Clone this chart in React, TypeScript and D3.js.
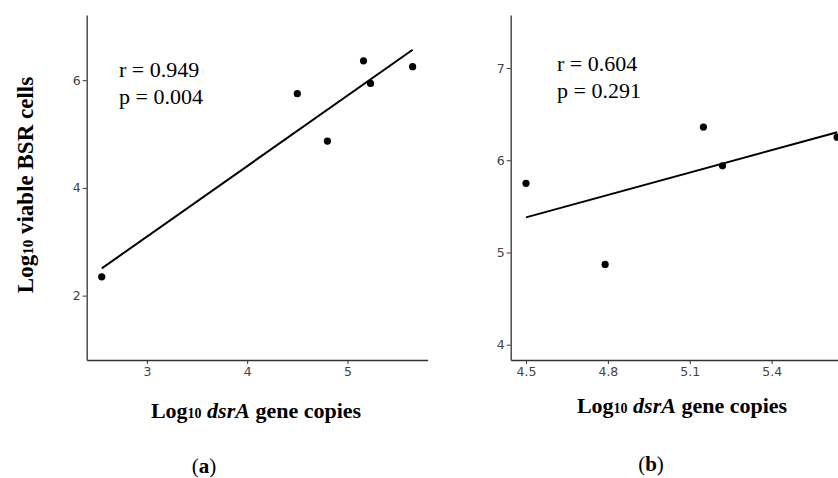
import React, { useRef, useEffect } from 'react';
import * as d3 from 'd3';

// panel (a): all six samples
const dsrA_a = [2.55, 4.5, 4.8, 5.16, 5.23, 5.65];
const bsr_a = [2.35, 5.75, 4.87, 6.36, 5.94, 6.25];
// panel (b): without the lowest sample
const dsrA_b = [4.5, 4.79, 5.15, 5.22, 5.64];
const bsr_b = [5.75, 4.87, 6.36, 5.94, 6.25];

const ticksXa = [3, 4, 5];
const ticksYa = [2, 4, 6];
const ticksXb = [4.5, 4.8, 5.1, 5.4];
const ticksYb = [4, 5, 6, 7];

const statsA = ['r = 0.949', 'p = 0.004'];
const statsB = ['r = 0.604', 'p = 0.291'];

const W = 838;
const H = 478;
const SERIF = '"Liberation Serif", "Times New Roman", serif';

// least squares fit
function fit(xs: number[], ys: number[]) {
  const mx = d3.mean(xs)!;
  const my = d3.mean(ys)!;
  const sxy = d3.sum(xs, (x, i) => (x - mx) * (ys[i] - my));
  const sxx = d3.sum(xs, (x) => (x - mx) ** 2);
  const b = sxy / sxx;
  return (x: number) => my + b * (x - mx);
}

const App = () => {
  const ref = useRef<SVGSVGElement>(null);

  useEffect(() => {
    const svg = d3.select(ref.current);
    svg.selectAll('*').remove();

    const panel = (
      xs: number[], ys: number[],
      xDom: [number, number], xRange: [number, number],
      yDom: [number, number], yRange: [number, number],
      xt: number[], yt: number[], stats: string[], statX: number, statY: number,
      xLabelX: number, xLabelY: number, tag: string, tagX: number, tagY: number
    ) => {
      const x = d3.scaleLinear().domain(xDom).range(xRange);
      const y = d3.scaleLinear().domain(yDom).range(yRange);
      const g = svg.append('g');

      const xAxis = g.append('g')
        .attr('transform', `translate(0,${yRange[0]})`)
        .call(d3.axisBottom(x).tickValues(xt).tickFormat(d3.format('')).tickSize(4).tickSizeOuter(0));
      const yAxis = g.append('g')
        .attr('transform', `translate(${xRange[0]},0)`)
        .call(d3.axisLeft(y).tickValues(yt).tickFormat(d3.format('')).tickSize(4).tickSizeOuter(0));

      [xAxis, yAxis].forEach((a) => {
        a.select('.domain').attr('stroke', '#333').attr('stroke-width', 1.3);
        a.selectAll('.tick line').attr('stroke', '#333').attr('stroke-width', 1);
        a.selectAll('.tick text')
          .attr('fill', '#444')
          .style('font-family', '"DejaVu Sans", sans-serif')
          .style('font-size', '12.5px');
      });
      xAxis.selectAll('.tick text').attr('dy', '0.71em').attr('y', 7);
      yAxis.selectAll('.tick text').attr('x', -6);

      const f = fit(xs, ys);
      const ext = d3.extent(xs) as [number, number];
      g.append('path')
        .datum(ext)
        .attr('fill', 'none')
        .attr('stroke', '#000')
        .attr('stroke-width', 2)
        .attr('d', d3.line<number>().x((d) => x(d)).y((d) => y(f(d))));

      g.selectAll('circle.pt')
        .data(xs)
        .join('circle')
        .attr('class', 'pt')
        .attr('cx', (d) => x(d))
        .attr('cy', (d, i) => y(ys[i]))
        .attr('r', 3.6)
        .attr('fill', '#000');

      stats.forEach((s, i) => {
        g.append('text')
          .attr('x', statX)
          .attr('y', statY + i * 27)
          .style('font-family', SERIF)
          .style('font-size', '22px')
          .attr('fill', '#000')
          .text(s);
      });

      const xl = g.append('text')
        .attr('x', xLabelX)
        .attr('y', xLabelY)
        .attr('text-anchor', 'middle')
        .style('font-family', SERIF)
        .style('font-size', '22px')
        .style('font-weight', 'bold');
      xl.append('tspan').text('Log');
      xl.append('tspan').style('font-size', '14px').text('10');
      xl.append('tspan').text(' ');
      xl.append('tspan').style('font-style', 'italic').text('dsrA');
      xl.append('tspan').text(' gene copies');

      const tg = g.append('text')
        .attr('x', tagX)
        .attr('y', tagY)
        .attr('text-anchor', 'middle')
        .style('font-family', SERIF)
        .style('font-size', '21px');
      tg.append('tspan').text('(');
      tg.append('tspan').style('font-weight', 'bold').text(tag);
      tg.append('tspan').text(')');
    };

    panel(dsrA_a, bsr_a, [2.4, 5.8], [86.7, 427.7], [0.805, 7.21], [360, 15],
      ticksXa, ticksYa, statsA, 119, 77, 256, 418, 'a', 204, 473);
    panel(dsrA_b, bsr_b, [4.444, 5.72], [510.7, 859], [3.834, 7.575], [360, 15],
      ticksXb, ticksYb, statsB, 557, 71, 682, 413, 'b', 651, 471);

    const yl = svg.append('text')
      .attr('transform', 'translate(33,185) rotate(-90)')
      .attr('text-anchor', 'middle')
      .style('font-family', SERIF)
      .style('font-size', '23px')
      .style('font-weight', 'bold');
    yl.append('tspan').text('Log');
    yl.append('tspan').style('font-size', '15px').text('10');
    yl.append('tspan').text(' viable BSR cells');
  }, []);

  return (
    <svg
      ref={ref}
      width={W}
      height={H}
      style={{ position: 'absolute', left: 0, top: 0, background: '#fff' }}
    />
  );
};

export default App;
